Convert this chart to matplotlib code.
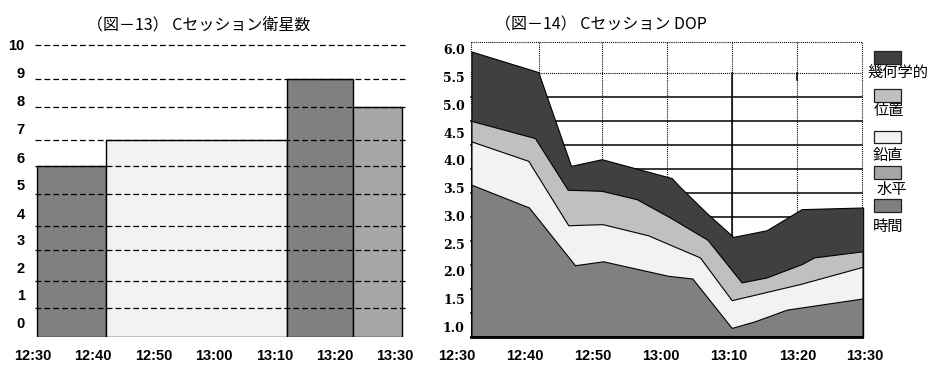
import matplotlib
matplotlib.use("Agg")
import matplotlib.pyplot as plt
from matplotlib.patches import Rectangle

plt.rcParams['font.family'] = ['Noto Sans CJK JP', 'DejaVu Sans']
plt.rcParams['lines.scale_dashes'] = False

# ---- data, left chart (satellites) ----
time_labels = ['12:30', '12:40', '12:50', '13:00', '13:10', '13:20', '13:30']
sat_edges   = [0.7, 12.15, 42.15, 53.1, 61.2]      # minutes after 12:30
sat_count   = [5.84, 6.75, 8.82, 7.87]
sat_colors  = ['#808080', '#f2f2f2', '#808080', '#a6a6a6']
sat_grid    = [0.97, 1.92, 2.97, 3.80, 4.88, 5.84, 6.75, 7.87, 8.82, 10.0]
sat_ytick_pos = [0.47, 1.43, 2.38, 3.34, 4.23, 5.22, 6.15, 7.13, 8.09, 9.05, 10.01]
sat_ytick_lab = [str(i) for i in range(11)]

# ---- data, right chart (DOP) ----
gdop_t = [0, 10.25, 15.27, 19.98, 30.72, 32.0, 36.09, 40.17, 45.3, 50.67, 60.1]
gdop   = [5.96, 5.59, 3.90, 4.02, 3.68, 3.52, 3.05, 2.62, 2.74, 3.12, 3.15]
pdop_t = [0, 9.74, 14.76, 19.98, 25.35, 30.46, 36.2, 41.45, 45.3, 50.67, 52.55, 60.0]
pdop   = [4.71, 4.40, 3.47, 3.45, 3.30, 2.97, 2.57, 1.80, 1.89, 2.13, 2.25, 2.36]
vdop_t = [0, 8.72, 14.85, 20.1, 27.08, 35.06, 39.93, 50.4, 60.0]
vdop   = [4.34, 3.99, 2.83, 2.85, 2.65, 2.25, 1.48, 1.77, 2.08]
tdop_t = [0, 8.82, 15.88, 20.22, 30.15, 33.9, 39.93, 43.5, 48.4, 60.0]
tdop   = [3.56, 3.15, 2.11, 2.18, 1.92, 1.87, 0.98, 1.10, 1.31, 1.51]
dop_base = 0.822
dop_ytick = [1.0, 1.5, 2.0, 2.5, 3.0, 3.5, 4.0, 4.5, 5.0, 5.5, 6.0]
dop_xtick_pos = [-2.27, 8.21, 18.64, 29.08, 39.51, 50.1, 60.37]
dop_dotted_x = [0, 10.4, 20, 30, 40, 50, 60]
dop_solid_y = [5.135, 4.70, 4.27, 3.84, 3.41, 2.97, 2.54, 2.11, 1.68, 1.24]

legend_names  = ['幾何学的', '位置', '鉛直', '水平', '時間']
legend_colors = ['#404040', '#c0c0c0', '#f2f2f2', '#a6a6a6', '#808080']

W, H = 934, 377
fig = plt.figure(figsize=(W / 100, H / 100), dpi=100)
fig.patch.set_facecolor('white')

def fx(px):
    return px / W

def fy(py):
    return 1 - py / H

tick_font = dict(family='Liberation Sans', weight='bold', size=10.5)

# ---------------- left chart ----------------
ax1 = fig.add_axes([fx(33), fy(336.7), fx(406 - 33), (336.7 - 44) / H])
widths = [sat_edges[i + 1] - sat_edges[i] for i in range(len(sat_count))]
ax1.bar(sat_edges[:-1], sat_count, width=widths, align='edge',
        color=sat_colors, edgecolor='black', linewidth=1.0, zorder=2)
for g in sat_grid:
    ax1.plot([0.3, 61.7], [g, g], color='black', lw=0.9,
             linestyle=(0, (4.2, 2.2)), zorder=3, clip_on=False)
ax1.set_xlim(0, 61.83)
ax1.set_ylim(0, 10.02)
ax1.set_xticks([0, 10, 20, 30, 40, 50, 60])
ax1.set_xticklabels(time_labels, fontdict=tick_font)
ax1.set_yticks(sat_ytick_pos)
ax1.set_yticklabels(sat_ytick_lab, fontdict=dict(family='Liberation Sans', weight='bold', size=10.5))
ax1.tick_params(axis='x', length=0, pad=9)
ax1.tick_params(axis='y', length=0, pad=6)
for s in ax1.spines.values():
    s.set_visible(False)
ax1.set_facecolor('none')

# ---------------- right chart ----------------
ax2 = fig.add_axes([fx(456.5), fy(336.7), fx(866.4 - 456.5), (336.7 - 41.7) / H])
ax2.set_xlim(-2.30, 60.6)
ax2.set_ylim(dop_base, 6.137)

dot = (0, (0.75, 0.75))
# dotted frame / grid
ax2.plot([0, 60], [6.137, 6.137], color='black', lw=0.8, ls=dot, zorder=1, clip_on=False)
ax2.plot([10.4, 60], [5.57, 5.57], color='black', lw=0.8, ls=dot, zorder=1)
for x in dop_dotted_x:
    ax2.plot([x, x], [dop_base, 6.137], color='black', lw=0.8, ls=dot, zorder=1, clip_on=False)
# solid grid
for y in dop_solid_y:
    ax2.plot([0, 60], [y, y], color='black', lw=1.1, zorder=1)
ax2.plot([40, 40], [dop_base, 5.57], color='black', lw=1.1, zorder=1)
ax2.plot([50, 50], [5.45, 5.57], color='black', lw=1.1, zorder=1)

series = [(gdop_t, gdop, legend_colors[0]),
          (pdop_t, pdop, legend_colors[1]),
          (vdop_t, vdop, legend_colors[2]),
          (tdop_t, tdop, legend_colors[4])]
for k, (t, v, c) in enumerate(series):
    ax2.fill_between(t, dop_base, v, facecolor=c, edgecolor='black',
                     linewidth=0.8, zorder=2 + k)
ax2.plot([0, 60], [dop_base, dop_base], color='black', lw=2.0, zorder=10, clip_on=False)

ax2.set_xticks(dop_xtick_pos)
ax2.set_xticklabels(time_labels, fontdict=tick_font)
ax2.set_yticks(dop_ytick)
ax2.set_yticklabels(['%.1f' % v for v in dop_ytick],
                    fontdict=dict(family='DejaVu Serif', weight='bold', size=9))
ax2.tick_params(axis='x', length=0, pad=9)
ax2.tick_params(axis='y', length=0, pad=-6)
for s in ax2.spines.values():
    s.set_visible(False)
ax2.set_facecolor('none')

# legend (patch above, label below)
patch_top = [51, 89.3, 130.7, 166, 199.3]
label_y   = [72, 111, 156, 189, 226]
label_x   = [867, 874, 873, 877, 873]
for name, c, pt, ly, lx in zip(legend_names, legend_colors, patch_top, label_y, label_x):
    fig.add_artist(Rectangle((fx(874), fy(pt + 12.7)), fx(27), 12.7 / H,
                             transform=fig.transFigure, facecolor=c,
                             edgecolor='#202020', linewidth=0.9))
    fig.text(fx(lx), fy(ly), name, ha='left', va='center', fontsize=11)

# titles
fig.text(fx(199), fy(25), '（図－13） Cセッション衛星数', ha='center', va='center', fontsize=11.5)
fig.text(fx(601), fy(25), '（図－14） Cセッション DOP', ha='center', va='center', fontsize=11.5)

fig.savefig('out.png', dpi=100)
plt.close(fig)
